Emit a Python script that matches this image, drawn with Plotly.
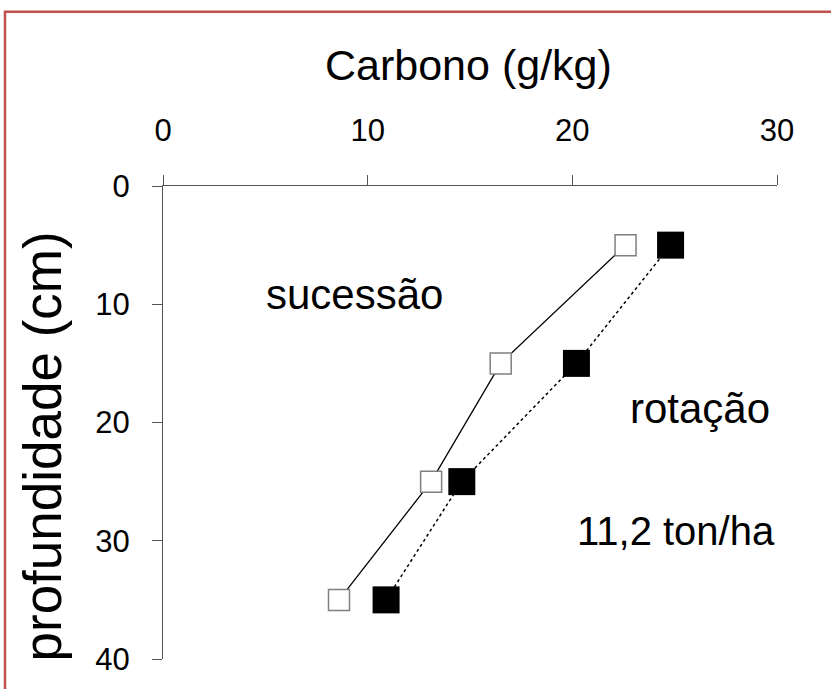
import plotly.graph_objects as go

depth = [5, 15, 25, 35]
sucessao = [22.6, 16.5, 13.1, 8.6]
rotacao = [24.8, 20.2, 14.6, 10.9]
x_ticks = [0, 10, 20, 30]
y_ticks = [0, 10, 20, 30, 40]

FONT = "Arial, Liberation Sans, sans-serif"
W, H = 831, 689
L, R, T, B = 163, 54, 186, 20
pw, ph = W - L - R, H - T - B

def px(x):
    return (x - L) / pw

def py(y):
    return (H - B - y) / ph

fig = go.Figure()
fig.add_trace(go.Scatter(
    x=rotacao, y=depth, mode="lines+markers", name="rotação",
    line=dict(color="black", width=1.5, dash="dot"),
    marker=dict(symbol="square", size=27, color="black", line=dict(width=0)),
))
fig.add_trace(go.Scatter(
    x=sucessao, y=depth, mode="lines+markers", name="sucessão",
    line=dict(color="black", width=1.3),
    marker=dict(symbol="square", size=21, color="white", line=dict(color="#808080", width=1.5)),
))

AX = "#555555"
fig.update_layout(
    width=W, height=H,
    margin=dict(l=L, r=R, t=T, b=B),
    paper_bgcolor="white", plot_bgcolor="white",
    showlegend=False,
    font=dict(family=FONT, color="black"),
    xaxis=dict(
        range=[0, 30], side="top", tickvals=x_ticks, ticks="outside", ticklen=10,
        tickcolor=AX, tickwidth=1.3, showgrid=False, zeroline=False,
        showline=True, linecolor=AX, linewidth=1.3,
        tickfont=dict(size=31, family=FONT), ticklabelstandoff=21,
    ),
    yaxis=dict(
        range=[40, 0], tickvals=y_ticks, ticks="outside", ticklen=10,
        tickcolor=AX, tickwidth=1.3, showgrid=False, zeroline=False,
        showline=True, linecolor=AX, linewidth=1.3,
        tickfont=dict(size=31, family=FONT), ticklabelstandoff=16,
    ),
    annotations=[
        dict(text="Carbono (g/kg)", x=px(468), y=py(62), xref="paper", yref="paper",
             showarrow=False, font=dict(size=43, family=FONT), xanchor="center", yanchor="middle"),
        dict(text="profundidade (cm)", x=px(42), y=py(452), xref="paper", yref="paper",
             showarrow=False, font=dict(size=53, family=FONT), textangle=-90,
             xanchor="center", yanchor="middle"),
        dict(text="sucessão", x=px(354), y=py(297), xref="paper", yref="paper",
             showarrow=False, font=dict(size=42, family=FONT), xanchor="center", yanchor="middle"),
        dict(text="rotação", x=px(700), y=py(413), xref="paper", yref="paper",
             showarrow=False, font=dict(size=42, family=FONT), xanchor="center", yanchor="middle"),
        dict(text="11,2 ton/ha", x=px(676), y=py(538), xref="paper", yref="paper",
             showarrow=False, font=dict(size=40, family=FONT), xanchor="center", yanchor="middle"),
    ],
    shapes=[
        dict(type="rect", xref="paper", yref="paper",
             x0=px(5), x1=px(900), y0=py(800), y1=py(8),
             line=dict(color="#c0504d", width=2.5), fillcolor="rgba(0,0,0,0)", layer="below"),
    ],
)

fig.write_html("out.html")
